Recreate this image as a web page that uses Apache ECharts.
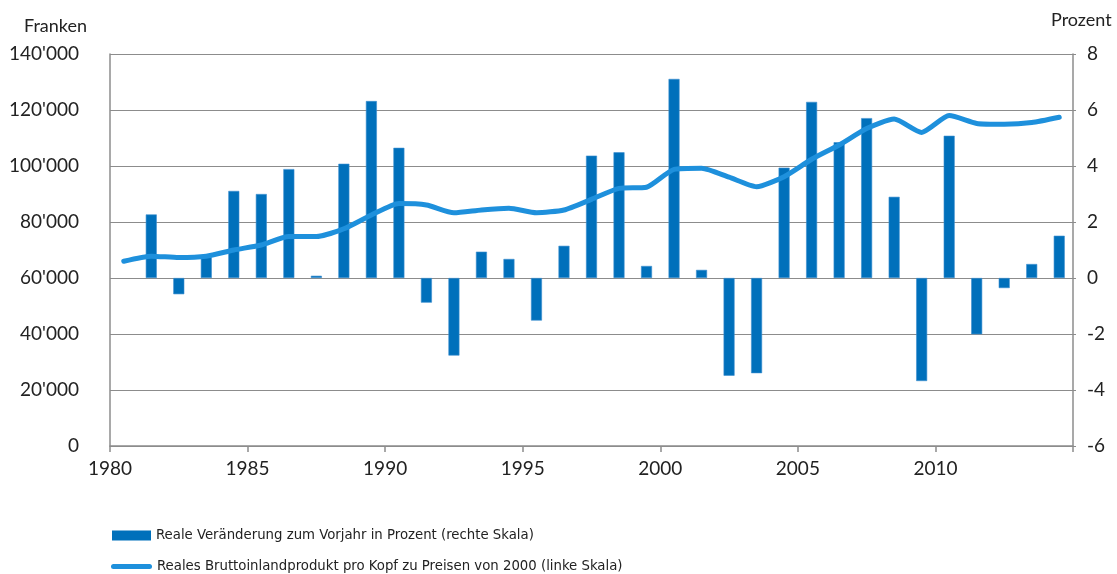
<!DOCTYPE html>
<html>
<head>
<meta charset="utf-8">
<script src="https://cdn.jsdelivr.net/npm/echarts@6/dist/echarts.min.js"></script>
<style>html,body{margin:0;padding:0;background:#fff;}#c{width:1117px;height:574px;}</style>
</head>
<body>
<div id="c"></div>
<script>
// Years 1980..2014
const years = [1980,1981,1982,1983,1984,1985,1986,1987,1988,1989,1990,1991,1992,1993,1994,1995,1996,1997,1998,1999,2000,2001,2002,2003,2004,2005,2006,2007,2008,2009,2010,2011,2012,2013,2014];
// Reale Veränderung zum Vorjahr in Prozent (rechte Skala)
const growthPct = [null,2.27,-0.58,0.74,3.11,3.0,3.89,0.08,4.08,6.32,4.65,-0.88,-2.77,0.94,0.68,-1.52,1.15,4.37,4.49,0.43,7.11,0.29,-3.49,-3.4,3.94,6.29,4.85,5.71,2.9,-3.68,5.08,-2.01,-0.36,0.5,1.51];
// Reales BIP pro Kopf zu Preisen von 2000, Franken (linke Skala)
const gdpPerCapita = [66000,67800,67300,67800,70000,71800,74800,74800,77600,82500,86600,86100,83300,84300,84900,83300,84300,88100,92000,92400,98800,99200,96000,92600,96200,102400,107500,113400,116800,112000,118000,115200,114900,115500,117400];
const xTicks = [1980,1985,1990,1995,2000,2005,2010];
const leftTicks = [0,20000,40000,60000,80000,100000,120000,140000];
const rightTicks = [-6,-4,-2,0,2,4,6,8];
const seriesNames = ['Reale Veränderung zum Vorjahr in Prozent (rechte Skala)','Reales Bruttoinlandprodukt pro Kopf zu Preisen von 2000 (linke Skala)'];

const barColor = '#0070BB';
const lineColor = '#1E90DC';
const gridGray = '#8C8C8C';
const textColor = '#222';
const tickFont = 'Lato, "Liberation Sans", sans-serif';

// pick a narrow font for the legend and size it close to the reference text width
const cv = document.createElement('canvas').getContext('2d');
function w(font, txt) { cv.font = font; return cv.measureText(txt).width; }
const probe = 'Reale Veränderung zum Vorjahr';
const candidates = ['Liberation Sans Narrow', 'DejaVu Sans Condensed', 'Roboto Condensed', 'Roboto'];
let legendFamily = 'Roboto';
for (const f of candidates) {
  const a = w('40px "' + f + '", monospace', probe);
  const b = w('40px monospace', probe);
  if (Math.abs(a - b) > 1) { legendFamily = f; break; }
}
let legendSize = 18;
const targetW = 378;
const wRef = w(legendSize + 'px "' + legendFamily + '"', seriesNames[0]);
if (wRef > targetW) legendSize = Math.max(14, 18 * targetW / wRef);

const chart = echarts.init(document.getElementById('c'), null, {renderer: 'canvas'});
const legendText = {fontFamily: legendFamily, fontSize: legendSize, color: textColor};
chart.setOption({
  animation: false,
  backgroundColor: '#fff',
  grid: {left: 110, right: 44, top: 54, bottom: 128, containLabel: false},
  graphic: [
    {type: 'text', left: 24, top: 17, style: {text: 'Franken', font: '18px ' + tickFont, fill: textColor}},
    {type: 'text', left: 1051, top: 11, style: {text: 'Prozent', font: '18px ' + tickFont, fill: textColor}}
  ],
  legend: [
    {
      orient: 'horizontal', left: 107, top: 523, height: 20,
      itemWidth: 39, itemHeight: 10,
      textStyle: legendText,
      data: [{name: seriesNames[0], icon: 'rect', itemStyle: {color: barColor, borderWidth: 0}}]
    },
    {
      orient: 'horizontal', left: 106, top: 554, height: 20,
      itemWidth: 41, itemHeight: 5,
      textStyle: legendText,
      data: [{name: seriesNames[1], icon: 'path://M2.5,0 L38.5,0 A2.5,2.5 0 0 1 38.5,5 L2.5,5 A2.5,2.5 0 0 1 2.5,0 Z', itemStyle: {color: lineColor}}]
    }
  ],
  xAxis: {
    type: 'value', min: 1980, max: 2015, interval: 5,
    axisLine: {show: true, lineStyle: {color: gridGray, width: 1.5}},
    axisTick: {show: true, length: 6, lineStyle: {color: gridGray, width: 1.5}},
    splitLine: {show: false},
    axisLabel: {
      color: textColor, fontFamily: tickFont, fontSize: 19, margin: 13,
      formatter: v => xTicks.includes(v) ? String(v) : ''
    }
  },
  yAxis: [
    {
      type: 'value', min: 0, max: 140000, interval: 20000, position: 'left',
      axisLine: {show: true, lineStyle: {color: gridGray, width: 1.5}},
      axisTick: {show: false},
      splitLine: {show: true, lineStyle: {color: gridGray, width: 1.2}},
      axisLabel: {
        color: textColor, fontFamily: tickFont, fontSize: 19, margin: 31,
        formatter: v => leftTicks.includes(v) ? (v === 0 ? '0' : (v / 1000) + "'000") : ''
      }
    },
    {
      type: 'value', min: -6, max: 8, interval: 2, position: 'right',
      axisLine: {show: true, lineStyle: {color: gridGray, width: 1.5}},
      axisTick: {show: true, length: 3, lineStyle: {color: gridGray}},
      splitLine: {show: false},
      axisLabel: {
        color: textColor, fontFamily: tickFont, fontSize: 19, margin: 14,
        formatter: v => rightTicks.includes(v) ? String(v) : ''
      }
    }
  ],
  series: [
    {
      name: seriesNames[0], type: 'bar', yAxisIndex: 1, barWidth: 11,
      itemStyle: {color: barColor, borderColor: '#3d8fd0', borderWidth: 0.6},
      data: years.map((y, i) => [y + 0.5, growthPct[i]]),
      z: 2
    },
    {
      name: seriesNames[1], type: 'line', yAxisIndex: 0,
      symbol: 'none', smooth: 0.2,
      lineStyle: {color: lineColor, width: 5, cap: 'round', join: 'round'},
      itemStyle: {color: lineColor},
      data: years.map((y, i) => [y + 0.5, gdpPerCapita[i]]),
      z: 3
    }
  ]
});
</script>
</body>
</html>
